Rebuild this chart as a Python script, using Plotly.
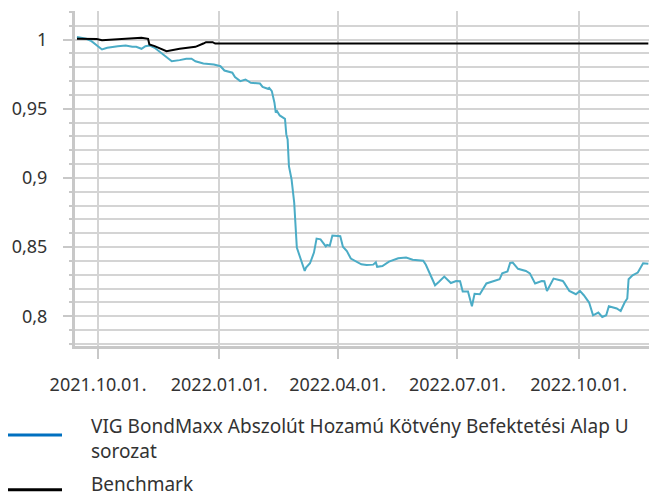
import plotly.graph_objects as go

# ---- data ----
fund_dates = [
    "2021-09-15", "2021-09-22", "2021-09-26", "2021-09-30", "2021-10-04", "2021-10-08",
    "2021-10-12", "2021-10-16", "2021-10-22", "2021-10-27", "2021-10-30", "2021-11-03",
    "2021-11-06", "2021-11-09", "2021-11-13", "2021-11-16", "2021-11-22", "2021-11-26",
    "2021-12-02", "2021-12-07", "2021-12-11", "2021-12-14", "2021-12-20", "2021-12-28",
    "2022-01-02", "2022-01-05", "2022-01-11", "2022-01-13", "2022-01-17", "2022-01-21",
    "2022-01-25", "2022-01-30", "2022-02-01", "2022-02-03", "2022-02-07", "2022-02-08",
    "2022-02-10", "2022-02-12", "2022-02-13", "2022-02-14", "2022-02-16", "2022-02-20",
    "2022-02-21", "2022-02-22", "2022-02-23", "2022-02-25", "2022-02-27", "2022-03-01",
    "2022-03-03", "2022-03-07", "2022-03-08", "2022-03-11", "2022-03-14", "2022-03-16",
    "2022-03-19", "2022-03-20", "2022-03-23", "2022-03-24", "2022-03-26", "2022-03-28",
    "2022-03-30", "2022-04-03", "2022-04-05", "2022-04-08", "2022-04-11", "2022-04-19",
    "2022-04-23", "2022-04-28", "2022-04-30", "2022-05-01", "2022-05-05", "2022-05-10",
    "2022-05-17", "2022-05-23", "2022-05-28", "2022-06-05", "2022-06-07", "2022-06-11",
    "2022-06-14", "2022-06-17", "2022-06-21", "2022-06-26", "2022-06-30", "2022-07-03",
    "2022-07-05", "2022-07-09", "2022-07-12", "2022-07-14", "2022-07-18", "2022-07-23",
    "2022-07-28", "2022-08-02", "2022-08-04", "2022-08-08", "2022-08-10", "2022-08-12",
    "2022-08-16", "2022-08-22", "2022-08-25", "2022-08-29", "2022-09-03", "2022-09-05",
    "2022-09-07", "2022-09-12", "2022-09-19", "2022-09-20", "2022-09-24", "2022-09-29",
    "2022-10-02", "2022-10-05", "2022-10-09", "2022-10-12", "2022-10-16", "2022-10-19",
    "2022-10-22", "2022-10-24", "2022-10-30", "2022-11-02", "2022-11-05", "2022-11-07",
    "2022-11-08", "2022-11-11", "2022-11-15", "2022-11-19", "2022-11-23",
]
fund_values = [
    1.0018, 1.0005, 0.9988, 0.9957, 0.9928, 0.9940,
    0.9947, 0.9952, 0.9957, 0.9947, 0.9947, 0.9933,
    0.9952, 0.9957, 0.9940, 0.9916, 0.9868, 0.9843,
    0.9851, 0.9861, 0.9861, 0.9843, 0.9827, 0.9819,
    0.9807, 0.9776, 0.9760, 0.9729, 0.9699, 0.9711,
    0.9687, 0.9680, 0.9682, 0.9658, 0.9644, 0.9651,
    0.9627, 0.9543, 0.9471, 0.9482, 0.9451, 0.9427,
    0.9314, 0.9278, 0.9085, 0.8989, 0.8821, 0.8496,
    0.8435, 0.8327, 0.8352, 0.8383, 0.8460, 0.8561,
    0.8556, 0.8544, 0.8505, 0.8515, 0.8510, 0.8583,
    0.8583, 0.8578, 0.8502, 0.8471, 0.8417, 0.8375,
    0.8370, 0.8373, 0.8390, 0.8357, 0.8363, 0.8395,
    0.8419, 0.8424, 0.8408, 0.8401, 0.8372, 0.8289,
    0.8224, 0.8249, 0.8287, 0.8240, 0.8255, 0.8253,
    0.8179, 0.8179, 0.8072, 0.8162, 0.8159, 0.8237,
    0.8251, 0.8267, 0.8310, 0.8323, 0.8385, 0.8388,
    0.8343, 0.8327, 0.8310, 0.8237, 0.8255, 0.8253,
    0.8183, 0.8272, 0.8255, 0.8243, 0.8183, 0.8159,
    0.8183, 0.8152, 0.8099, 0.8007, 0.8027, 0.7995,
    0.8007, 0.8072, 0.8056, 0.8038, 0.8099, 0.8128,
    0.8267, 0.8296, 0.8316, 0.8383, 0.8379,
]

bench_dates = [
    "2021-09-15", "2021-09-30", "2021-10-04", "2021-11-03", "2021-11-08", "2021-11-09",
    "2021-11-13", "2021-11-22", "2021-12-02", "2021-12-14", "2021-12-20", "2021-12-22",
    "2021-12-27", "2021-12-29", "2022-11-23",
]
bench_values = [
    1.0005, 1.0003, 0.9995, 1.0012, 1.0005, 0.9964,
    0.9952, 0.9916, 0.9933, 0.9947, 0.9971, 0.9981,
    0.9981, 0.9971, 0.9971,
]

x_tick_dates = ["2021-10-01", "2021-12-31 23:59", "2022-04-01", "2022-07-01", "2022-10-01"]
x_tick_labels = ["2021.10.01.", "2022.01.01.", "2022.04.01.", "2022.07.01.", "2022.10.01."]

series_names = ["VIG BondMaxx Abszolút Hozamú Kötvény Befektetési Alap U<br>sorozat", "Benchmark"]

FONT = "Noto Sans"
TXT = "#333333"
GRID = "#D4D4D4"

fig = go.Figure()
fig.add_trace(go.Scatter(x=fund_dates, y=fund_values, mode="lines",
                         line=dict(color="#4BACC6", width=2), showlegend=False))
fig.add_trace(go.Scatter(x=bench_dates, y=bench_values, mode="lines",
                         line=dict(color="#000000", width=2), showlegend=False))

L, T, B, R = 75, 10.7, 346.0, 649
W = R - L
H = B - T


def px(xp):
    return (xp - L) / W


def py(yp):
    return (B - yp) / H


# manual legend
fig.add_shape(type="line", xref="paper", yref="paper", x0=px(8), x1=px(62), y0=py(435), y1=py(435),
              line=dict(color="#0070C0", width=3))
fig.add_shape(type="line", xref="paper", yref="paper", x0=px(8), x1=px(62), y0=py(490), y1=py(490),
              line=dict(color="#000000", width=3))
for txt, yy in [(series_names[0], 438.5), (series_names[1], 484.5)]:
    fig.add_annotation(text=txt, xref="paper", yref="paper", x=px(89), y=py(yy),
                       xanchor="left", yanchor="middle", align="left", showarrow=False,
                       font=dict(family=FONT, size=19, color=TXT))

fig.update_layout(
    width=649, height=498,
    margin=dict(l=L, r=0, t=T, b=498 - B),
    paper_bgcolor="white", plot_bgcolor="white",
    separators=", ",
    font=dict(family=FONT, color=TXT),
    showlegend=False,
)
fig.update_xaxes(
    type="date",
    range=["2021-09-13 12:00", "2022-11-23 12:00"],
    tickmode="array", tickvals=x_tick_dates, ticktext=x_tick_labels,
    showgrid=True, gridcolor=GRID, gridwidth=2,
    showline=True, linecolor="#C8C8C8", linewidth=3,
    ticks="outside", ticklen=10, tickwidth=2, tickcolor="#C8C8C8",
    ticklabelstandoff=10,
    tickfont=dict(family=FONT, size=18, color=TXT),
    zeroline=False,
)
fig.update_yaxes(
    range=[0.7785, 1.0206],
    tickmode="linear", tick0=0, dtick=0.05, tickformat=".2~f",
    showgrid=True, gridcolor=GRID, gridwidth=2,
    showline=True, linecolor="#C8C8C8", linewidth=3,
    ticks="outside", ticklen=9, tickwidth=2, tickcolor="#C8C8C8",
    ticklabelstandoff=12,
    tickfont=dict(family=FONT, size=18, color=TXT),
    minor=dict(dtick=0.01, tick0=0, showgrid=True, gridcolor=GRID, gridwidth=2,
               ticks="outside", ticklen=3, tickwidth=2, tickcolor="#C8C8C8"),
    zeroline=False,
)

fig.write_html(
    "out.html",
    config={"displayModeBar": False},
    post_script="document.body.style.margin='0';document.documentElement.style.overflow='hidden';",
)
